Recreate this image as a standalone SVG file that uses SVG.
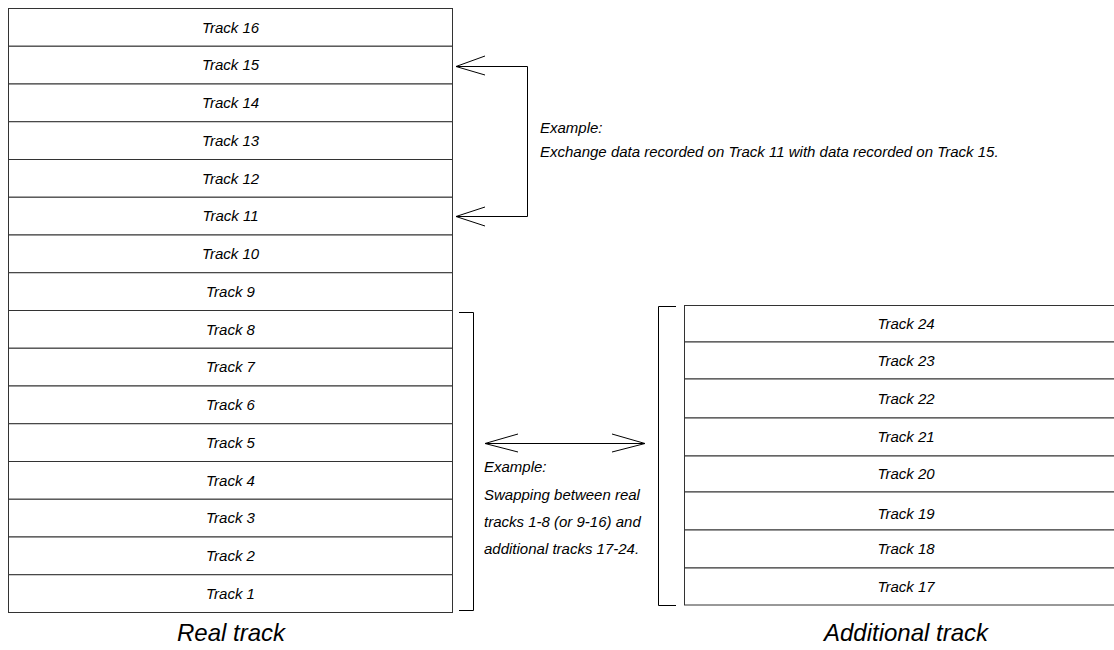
<svg xmlns="http://www.w3.org/2000/svg" width="1114" height="650" viewBox="0 0 1114 650">
<style>
.row{fill:#fff;stroke:#333;stroke-width:1}
.t{font-family:"Liberation Sans",Arial,sans-serif;font-style:italic;font-size:15px;fill:#000}
.c{text-anchor:middle}
.big{font-family:"Liberation Sans",Arial,sans-serif;font-style:italic;font-size:24px;fill:#000;text-anchor:middle}
.ln{fill:none;stroke:#000;stroke-width:1}
</style>
<rect width="1114" height="650" fill="#fff"/>
<g id="real-tracks">
<g id="track16"><rect class="row" x="8.5" y="8.5" width="444" height="37.75"/><text class="t c" x="230.5" y="32.5">Track 16</text></g>
<g id="track15"><rect class="row" x="8.5" y="46.25" width="444" height="37.75"/><text class="t c" x="230.5" y="70.2">Track 15</text></g>
<g id="track14"><rect class="row" x="8.5" y="84" width="444" height="37.75"/><text class="t c" x="230.5" y="108">Track 14</text></g>
<g id="track13"><rect class="row" x="8.5" y="121.75" width="444" height="37.75"/><text class="t c" x="230.5" y="145.7">Track 13</text></g>
<g id="track12"><rect class="row" x="8.5" y="159.5" width="444" height="37.75"/><text class="t c" x="230.5" y="183.5">Track 12</text></g>
<g id="track11"><rect class="row" x="8.5" y="197.25" width="444" height="37.75"/><text class="t c" x="230.5" y="221.2">Track 11</text></g>
<g id="track10"><rect class="row" x="8.5" y="235" width="444" height="37.75"/><text class="t c" x="230.5" y="259">Track 10</text></g>
<g id="track9"><rect class="row" x="8.5" y="272.75" width="444" height="37.75"/><text class="t c" x="230.5" y="296.7">Track 9</text></g>
<g id="track8"><rect class="row" x="8.5" y="310.5" width="444" height="37.75"/><text class="t c" x="230.5" y="334.5">Track 8</text></g>
<g id="track7"><rect class="row" x="8.5" y="348.25" width="444" height="37.75"/><text class="t c" x="230.5" y="372.2">Track 7</text></g>
<g id="track6"><rect class="row" x="8.5" y="386" width="444" height="37.75"/><text class="t c" x="230.5" y="410">Track 6</text></g>
<g id="track5"><rect class="row" x="8.5" y="423.75" width="444" height="37.75"/><text class="t c" x="230.5" y="447.7">Track 5</text></g>
<g id="track4"><rect class="row" x="8.5" y="461.5" width="444" height="37.75"/><text class="t c" x="230.5" y="485.5">Track 4</text></g>
<g id="track3"><rect class="row" x="8.5" y="499.25" width="444" height="37.75"/><text class="t c" x="230.5" y="523.2">Track 3</text></g>
<g id="track2"><rect class="row" x="8.5" y="537" width="444" height="37.75"/><text class="t c" x="230.5" y="561">Track 2</text></g>
<g id="track1"><rect class="row" x="8.5" y="574.75" width="444" height="37.75"/><text class="t c" x="230.5" y="598.7">Track 1</text></g>
</g>
<g id="additional-tracks">
<g id="track24"><rect class="row" x="684.5" y="305.5" width="444" height="36.5"/><text class="t c" x="906" y="328.8">Track 24</text></g>
<g id="track23"><rect class="row" x="684.5" y="342" width="444" height="37"/><text class="t c" x="906" y="365.5">Track 23</text></g>
<g id="track22"><rect class="row" x="684.5" y="379" width="444" height="39"/><text class="t c" x="906" y="403.5">Track 22</text></g>
<g id="track21"><rect class="row" x="684.5" y="418" width="444" height="38"/><text class="t c" x="906" y="442">Track 21</text></g>
<g id="track20"><rect class="row" x="684.5" y="456" width="444" height="36"/><text class="t c" x="906" y="479">Track 20</text></g>
<g id="track19"><rect class="row" x="684.5" y="492" width="444" height="38"/><text class="t c" x="906" y="519">Track 19</text></g>
<g id="track18"><rect class="row" x="684.5" y="530" width="444" height="38"/><text class="t c" x="906" y="554">Track 18</text></g>
<g id="track17"><rect class="row" x="684.5" y="568" width="444" height="37"/><text class="t c" x="906" y="591.5">Track 17</text></g>
</g>
<g id="connectors">
<path class="ln" d="M456,66.5 H527.5 V216.5 H456"/>
<path class="ln" d="M485,56 L456,66.5 L485,75"/>
<path class="ln" d="M485,207 L456,216.5 L485,226"/>
<path class="ln" d="M459,312.5 H473.5 V610.5 H459"/>
<path class="ln" d="M676,306.5 H658.5 V605.5 H676"/>
<path class="ln" d="M485,443.5 H645"/>
<path class="ln" d="M518,434 L485,443.5 L518,452"/>
<path class="ln" d="M612,434 L645,443.5 L612,452"/>
</g>
<g id="labels">
<text class="t" x="540" y="133">Example:</text>
<text class="t" x="540" y="157">Exchange data recorded on Track 11 with data recorded on Track 15.</text>
<text class="t" x="484" y="472">Example:</text>
<text class="t" x="484" y="500">Swapping between real</text>
<text class="t" x="484" y="527">tracks 1-8 (or 9-16) and</text>
<text class="t" x="484" y="554">additional tracks 17-24.</text>
<text class="big" x="231" y="641">Real track</text>
<text class="big" x="906" y="641">Additional track</text>
</g>
</svg>
